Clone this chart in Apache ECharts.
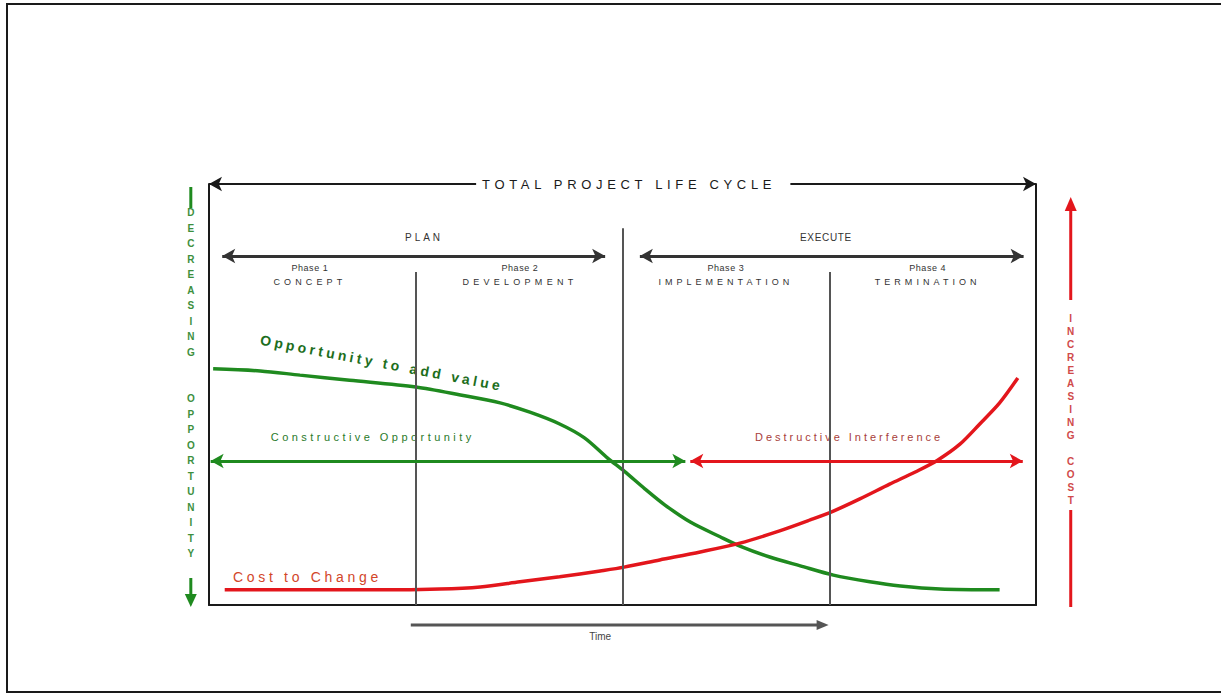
<!DOCTYPE html>
<html><head><meta charset="utf-8">
<script src="https://cdn.jsdelivr.net/npm/echarts@6/dist/echarts.min.js"></script>
<style>html,body{margin:0;padding:0;background:#fff}#c{width:1221px;height:695px}</style>
</head><body><div id="c"></div>
<script>
// ---------- data (x = time 0..100, y = level 0..100) ----------
const phaseBounds = [25, 50, 75];
const phaseTops = [79.1, 89.5, 79.1];
const phaseCenters = [12.2, 37.6, 62.5, 86.9];
const phaseNames = ['Phase 1', 'Phase 2', 'Phase 3', 'Phase 4'];
const phaseTitles = ['CONCEPT', 'DEVELOPMENT', 'IMPLEMENTATION', 'TERMINATION'];
const stageNames = ['PLAN', 'EXECUTE'];
const stageCenters = [26, 74.6];
const stageSpans = [[1.6, 47.9], [52.1, 98.5]];
const stageLevel = 82.9;
const totalSpans = [[0, 32.3], [70.3, 100]];
const opportunityToAddValue = [
  [0.5,56.1],[6.2,55.6],[11.0,54.6],[17.0,53.4],[25.0,51.8],[30.4,49.9],[35.2,48.0],
  [38.8,45.8],[42.4,43.0],[45.4,39.7],[48.2,34.9],[50.2,31.8],[52.7,27.6],[55.1,23.8],
  [58.2,19.7],[61.8,16.2],[64.2,14.0],[67.8,11.4],[71.5,9.3],[75.5,7.1],[79.9,5.5],
  [83.6,4.5],[88.4,3.8],[95.6,3.6]
];
const costToChange = [
  [1.9,3.6],[11.0,3.6],[20.7,3.6],[27.9,3.8],[32.8,4.3],[37.6,5.5],[42.4,6.7],[47.3,8.1],
  [50.2,9.0],[54.5,10.7],[59.4,12.6],[64.2,14.7],[69.0,17.6],[72.7,20.2],[75.5,22.3],
  [78.7,25.2],[82.3,28.7],[85.4,31.6],[88.1,34.4],[90.8,38.2],[93.2,43.0],[95.6,48.0],[97.8,53.9]
];
const interferenceLevel = 34.2;
const constructiveSpan = [0.2, 57.6];
const destructiveSpan = [58.2, 98.4];
const timeSpan = [24.4, 74.8];
const timeLevel = -4.75;

const GREEN = '#1f8a1f', RED = '#e3161c', INK = '#1a1a1a', GRAY = '#555';
const FONT = '"Liberation Sans", Arial, sans-serif';

const chart = echarts.init(document.getElementById('c'), null, {renderer: 'svg'});

function hiddenAxis(extra) {
  return Object.assign({type: 'value', min: 0, max: 100,
    axisLine: {show: true, onZero: false, lineStyle: {color: INK, width: 2}},
    axisTick: {show: false}, axisLabel: {show: false}, splitLine: {show: false}}, extra || {});
}
function markSeries(color, width, segs) {
  return {
    type: 'line', data: [], silent: true, clip: false,
    markLine: {
      silent: true, animation: false, symbolSize: [11, 13],
      lineStyle: {color: color, width: width, type: 'solid'},
      label: {show: false}, emphasis: {disabled: true},
      data: segs.map(s => [
        {coord: [s[0], s[1]], symbol: s[4] || 'none'},
        {coord: [s[2], s[3]], symbol: s[5] || 'none'}
      ])
    }
  };
}

chart.setOption({
  animation: false,
  backgroundColor: '#fff',
  grid: {left: 209, right: 185, top: 184, bottom: 90},
  xAxis: hiddenAxis(),
  yAxis: [hiddenAxis(), hiddenAxis({position: 'right'})],
  series: [
    markSeries(GRAY, 2, phaseBounds.map((b, i) => [b, 0, b, phaseTops[i]])),
    markSeries(INK, 2, [
      [totalSpans[0][0], 100, totalSpans[0][1], 100, 'arrow', 'none'],
      [totalSpans[1][0], 100, totalSpans[1][1], 100, 'none', 'arrow']
    ]),
    markSeries('#333', 3, stageSpans.map(s => [s[0], stageLevel, s[1], stageLevel, 'arrow', 'arrow'])),
    markSeries(GREEN, 3, [[constructiveSpan[0], interferenceLevel, constructiveSpan[1], interferenceLevel, 'arrow', 'arrow']]),
    markSeries(RED, 3, [[destructiveSpan[0], interferenceLevel, destructiveSpan[1], interferenceLevel, 'arrow', 'arrow']]),
    {name: 'Opportunity to add value', type: 'line', data: opportunityToAddValue, smooth: 0.3,
     showSymbol: false, silent: true, lineStyle: {color: GREEN, width: 3.5}},
    {name: 'Cost to Change', type: 'line', data: costToChange, smooth: 0.3,
     showSymbol: false, silent: true, lineStyle: {color: RED, width: 3.5}}
  ]
});

const P = (x, y) => chart.convertToPixel({xAxisIndex: 0, yAxisIndex: 0}, [x, y]);
function txt(text, pt, size, color, opts) {
  opts = opts || {};
  return {type: 'text', x: pt[0], y: pt[1], rotation: opts.rotation || 0, silent: true,
    style: {text: text, fill: color, font: (opts.weight || 'normal') + ' ' + size + 'px ' + FONT,
      align: opts.align || 'center', textAlign: opts.align || 'center',
      verticalAlign: opts.valign || 'middle', textVerticalAlign: opts.valign || 'middle',
      lineHeight: opts.lineHeight}};
}

const g = [];
// outer frame
g.push({type: 'polyline', silent: true, shape: {points: [[1221, 4], [7, 4], [7, 692], [1221, 692]]},
  style: {stroke: INK, lineWidth: 2, fill: null}});
g.push(txt('TOTAL PROJECT LIFE CYCLE', P(50.8, 100), 13, INK));
stageNames.forEach((s, i) => g.push(txt(s, P(stageCenters[i], 87.2), 10, '#333')));
phaseNames.forEach((s, i) => {
  g.push(txt(s, P(phaseCenters[i], 80.0), 9, '#333'));
  g.push(txt(phaseTitles[i], P(phaseCenters[i], 76.7), 9, '#333'));
});
g.push(txt('Opportunity to add value', P(20.9, 57.5), 14, '#1d6e1d', {weight: 'bold', rotation: -0.19}));
g.push(txt('Constructive Opportunity', P(19.8, 39.9), 11, '#2a7a2a'));
g.push(txt('Destructive Interference', P(77.4, 39.9), 11, '#a8403a'));
g.push(txt('Cost to Change', P(2.9, 6.6), 14, '#d2462a', {align: 'left'}));
// time arrow
const t0 = P(timeSpan[0], timeLevel), t1 = P(timeSpan[1], timeLevel);
g.push({type: 'line', silent: true, shape: {x1: t0[0], y1: t0[1], x2: t1[0] - 8, y2: t1[1]}, style: {stroke: GRAY, lineWidth: 3}});
g.push({type: 'polygon', silent: true, shape: {points: [[t1[0] - 11, t1[1] - 5], [t1[0] + 1, t1[1]], [t1[0] - 11, t1[1] + 5]]}, style: {fill: GRAY}});
g.push(txt('Time', P(47.3, -7.6), 10, '#444'));
// left side: decreasing opportunity
const lx = P(-2.2, 0)[0];
g.push({type: 'line', silent: true, shape: {x1: lx, y1: 187, x2: lx, y2: 208}, style: {stroke: GREEN, lineWidth: 3}});
g.push({type: 'line', silent: true, shape: {x1: lx, y1: 578, x2: lx, y2: 598}, style: {stroke: GREEN, lineWidth: 3}});
g.push({type: 'polygon', silent: true, shape: {points: [[lx - 6, 594], [lx + 6, 594], [lx, 607]]}, style: {fill: GREEN}});
g.push(txt('DECREASING OPPORTUNITY'.replace(' ', '\n\n').split('').join('\n').replace(/\n\n\n\n\n/g, '\n\n\n'),
  [lx, 205], 10, '#3d8f3d', {valign: 'top', lineHeight: 15.5, weight: 'bold'}));
// right side: increasing cost
const rx = P(104.2, 0)[0];
g.push({type: 'line', silent: true, shape: {x1: rx, y1: 208, x2: rx, y2: 300}, style: {stroke: RED, lineWidth: 3}});
g.push({type: 'polygon', silent: true, shape: {points: [[rx - 6, 211], [rx + 6, 211], [rx, 197]]}, style: {fill: RED}});
g.push({type: 'line', silent: true, shape: {x1: rx, y1: 510, x2: rx, y2: 607}, style: {stroke: RED, lineWidth: 3}});
g.push(txt('INCREASING COST'.replace(' ', '\n\n').split('').join('\n').replace(/\n\n\n\n\n/g, '\n\n'),
  [rx, 311.5], 10, '#d04a4a', {valign: 'top', lineHeight: 13, weight: 'bold'}));

chart.setOption({graphic: {elements: g}});

const spacingTargets = {
  'TOTAL PROJECT LIFE CYCLE': 294, 'PLAN': 38, 'EXECUTE': 52,
  'Phase 1': 37, 'Phase 2': 37, 'Phase 3': 37, 'Phase 4': 37,
  'CONCEPT': 73, 'DEVELOPMENT': 115, 'IMPLEMENTATION': 135, 'TERMINATION': 106,
  'Opportunity to add value': 247, 'Constructive Opportunity': 204,
  'Destructive Interference': 188, 'Cost to Change': 149, 'Time': 22
};
function applySpacing() {
  chart.getDom().querySelectorAll('text').forEach(t => {
    const s = t.textContent, target = spacingTargets[s];
    if (!target) return;
    t.style.letterSpacing = '0px';
    const w = t.getComputedTextLength();
    t.style.letterSpacing = Math.max(0, (target - w) / s.length) + 'px';
  });
}
chart.getZr().flush();
applySpacing();
chart.on('finished', applySpacing);
</script></body></html>
